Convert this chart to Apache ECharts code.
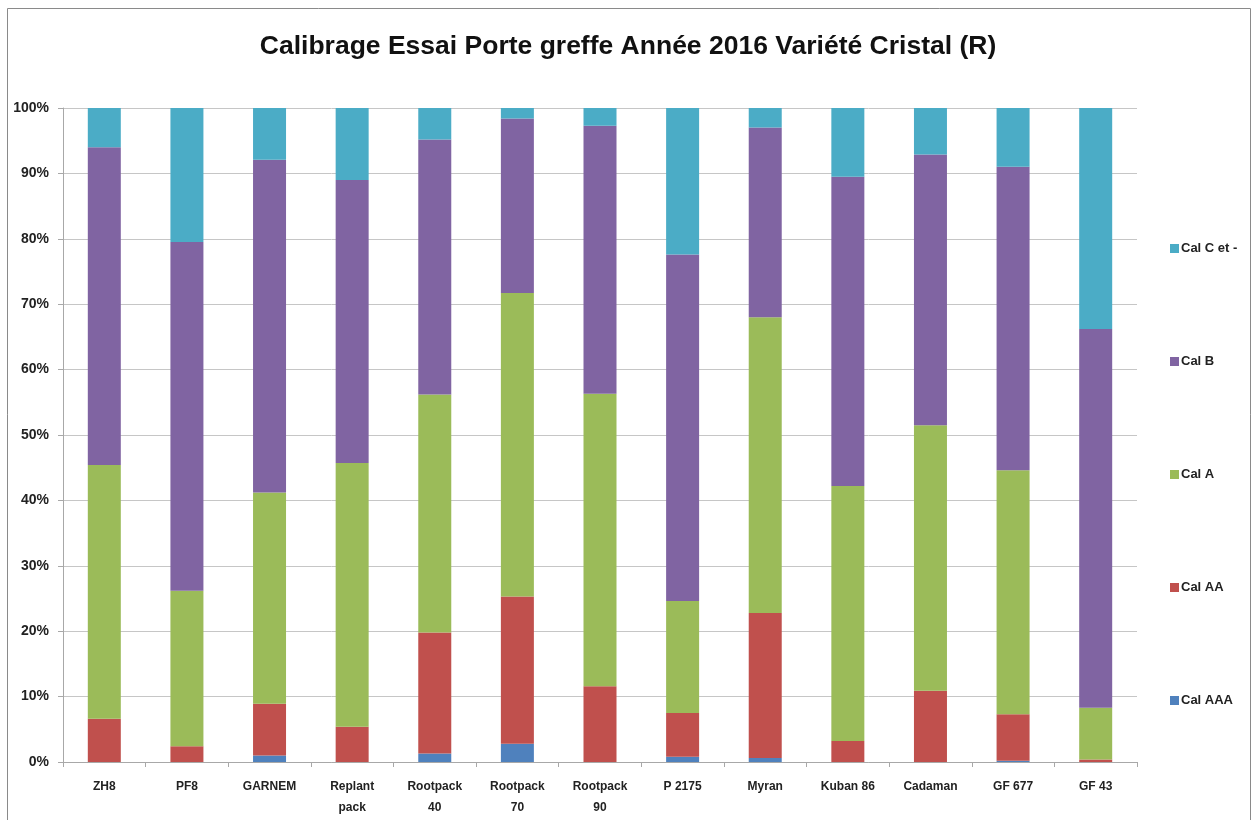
<!DOCTYPE html>
<html>
<head>
<meta charset="utf-8">
<script src="https://cdn.jsdelivr.net/npm/echarts@6/dist/echarts.min.js"></script>
<style>
  html, body { margin: 0; padding: 0; background: #ffffff; }
  #chart { width: 1256px; height: 820px; }
</style>
</head>
<body>
<div id="chart"></div>
<script>
// porte-greffes (catégories)
const categories = ['ZH8', 'PF8', 'GARNEM', 'Replant\npack', 'Rootpack\n40', 'Rootpack\n70', 'Rootpack\n90', 'P 2175', 'Myran', 'Kuban 86', 'Cadaman', 'GF 677', 'GF 43'];

// parts en % par calibre
const calAAA = [0, 0, 1.0, 0, 1.3, 2.8, 0, 0.8, 0.6, 0, 0, 0.2, 0];
const calAA  = [6.6, 2.4, 7.9, 5.4, 18.5, 22.5, 11.6, 6.7, 22.2, 3.2, 10.9, 7.1, 0.4];
const calA   = [38.8, 23.8, 32.3, 40.3, 36.4, 46.4, 44.7, 17.1, 45.2, 39.0, 40.6, 37.3, 7.9];
const calB   = [48.6, 53.3, 50.9, 43.3, 39.0, 26.7, 41.0, 53.0, 29.0, 47.3, 41.4, 46.4, 57.9];
const calC   = [6.0, 20.5, 7.9, 11.0, 4.8, 1.6, 2.7, 22.4, 3.0, 10.5, 7.1, 9.0, 33.8];

const yTicks = [0, 10, 20, 30, 40, 50, 60, 70, 80, 90, 100];

const COLORS = {
    aaa: '#4f81bd',
    aa: '#c0504d',
    a: '#9bbb59',
    b: '#8064a2',
    c: '#4bacc6'
};

const FONT = '"Liberation Sans", Arial, sans-serif';

const chart = echarts.init(document.getElementById('chart'));

function barSeries(name, data, color){
    return {
        name: name,
        type: 'bar',
        stack: 'total',
        data: data,
        barWidth: 33,
        itemStyle: {color: color},
        emphasis: {disabled: true}
    };
}

chart.setOption({
    backgroundColor: '#ffffff',
    animation: false,
    title: {
        text: 'Calibrage Essai Porte greffe Année 2016 Variété Cristal (R)',
        left: 'center', top: 28,
        textStyle: {fontFamily: FONT, fontSize: 26.5, fontWeight: 'bold', color: '#111'}
    },
    graphic: [{
        type: 'rect',
        shape: {x: 7.5, y: 8.5, width: 1243, height: 830},
        style: {fill: 'none', stroke: '#8a8a8a', lineWidth: 1},
        silent: true
    }],
    legend: {
        orient: 'vertical',
        left: 1165, top: 237,
        itemGap: 100,
        itemWidth: 9, itemHeight: 9,
        icon: 'rect',
        data: ['Cal C et -', 'Cal B', 'Cal A', 'Cal AA', 'Cal AAA'],
        textStyle: {fontFamily: FONT, fontSize: 13, fontWeight: 'bold', color: '#222', padding: [0, 0, 0, -3]}
    },
    grid: {left: 63, right: 119, top: 108, bottom: 58, containLabel: false},
    xAxis: {
        type: 'category',
        data: categories,
        axisLine: {lineStyle: {color: '#a8a8a8'}},
        axisTick: {show: true, length: 5, lineStyle: {color: '#a8a8a8'}},
        axisLabel: {
            interval: 0, margin: 14, lineHeight: 21,
            fontFamily: FONT, fontSize: 12, fontWeight: 'bold', color: '#222'
        }
    },
    yAxis: {
        type: 'value',
        min: yTicks[0], max: yTicks[yTicks.length - 1], interval: 10,
        axisLine: {show: true, lineStyle: {color: '#a8a8a8'}},
        axisTick: {show: true, length: 5, lineStyle: {color: '#a8a8a8'}},
        splitLine: {lineStyle: {color: '#c6c6c6'}},
        axisLabel: {
            margin: 14, formatter: '{value}%',
            fontFamily: FONT, fontSize: 14, fontWeight: 'bold', color: '#222'
        }
    },
    series: [
        barSeries('Cal AAA', calAAA, COLORS.aaa),
        barSeries('Cal AA', calAA, COLORS.aa),
        barSeries('Cal A', calA, COLORS.a),
        barSeries('Cal B', calB, COLORS.b),
        barSeries('Cal C et -', calC, COLORS.c)
    ]
});

window.addEventListener('resize', () => chart.resize());
</script>
</body>
</html>
